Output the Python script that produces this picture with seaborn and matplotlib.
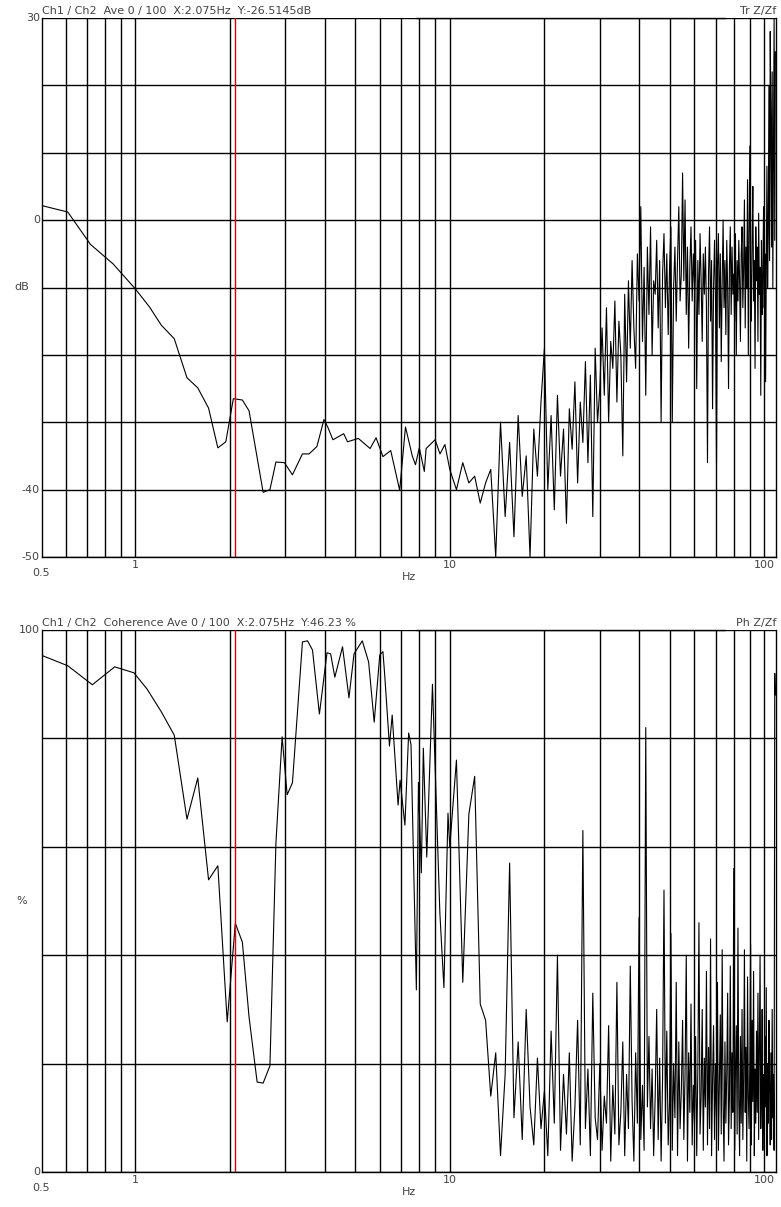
import numpy as np
import pandas as pd
import seaborn as sns
import matplotlib
matplotlib.use('Agg')
import matplotlib.pyplot as plt

# ---- transfer function (dB) ----
tf_lo_freq = [0.5, 0.61, 0.72, 0.85, 1.0, 1.11, 1.21, 1.33, 1.46, 1.58, 1.71, 1.83, 1.94,
              2.05, 2.19, 2.30, 2.55, 2.68, 2.80, 2.98, 3.16, 3.40, 3.57, 3.78, 3.98, 4.10,
              4.25, 4.60, 4.73, 5.12, 5.58, 5.83, 6.13, 6.49, 6.93, 7.23, 7.60, 7.78, 8.0,
              8.3, 8.41, 8.98, 9.31, 9.65]
tf_lo_db = [2.2, 1.2, -3.6, -6.5, -10.2, -12.9, -15.6, -17.6, -23.4, -24.9, -27.9, -33.8, -32.9,
            -26.5, -26.7, -28.3, -40.4, -40.0, -35.9, -36.0, -37.8, -34.7, -34.7, -33.6, -29.6, -30.8,
            -32.6, -31.7, -32.9, -32.4, -33.9, -32.3, -35.1, -34.2, -40.1, -30.7, -35.0, -36.3, -33.8,
            -37.3, -33.9, -32.6, -34.7, -33.3]
tf_hi_db = [-37, -40, -36, -39, -38, -42, -39, -37,
            -50, -30, -44, -33, -47, -29, -41, -35,
            -50, -31, -38, -27,
            -19, -40,
            -29, -43, -26, -38, -31, -45, -28, -34,
            -24, -39, -27, -33, -21, -36,
            -23, -44, -19, -30, -25, -16,
            -26, -13, -30, -18, -22, -12, -27, -15, -20, -35,
            -11, -24, -9, -19, -6, -16, -22, -5,
            -12, 2, -18, -7, -26, -4, -14, -1, -20, -9,
            -11, -3, -16, -6, -30, -8, -2, -13, -5, -17,
            -7, -1, -30, -10, -4, -15, -6, 2, -12, -8,
            7, -9, 3, -14, -4, -19, -7, -1, -12, -5,
            -10, -3, -25, -6, -14, -2, -9, -18, -5, -11,
            -4, -13, -36, -8, -1, -15, -6, -28, -10, -3,
            -12, -36, -7, -2, -16, -5, -21, -9, 0, -13,
            -6, -17, -3, -10, -25, -7, -1, -14, -4, -11,
            -8, -15, -2, -20, -6, -12, -3, -9, -18, -5,
            -1, -13, -7, 3, -16, -4, -10, 6, -20, -2,
            11, -8, -15, -3, 5, -12, -6, -22, -1, -9,
            -4, -18, 1, -11, -7, -26, -3, -14, -9, 2,
            -13, -5, -24, -8, 8, -10, -2, 20, -6, 28,
            15, -4, 22, -10, 9, 30, -3, 25]

# ---- coherence (%) ----
coh_lo_freq = [0.5, 0.61, 0.73, 0.86, 0.99, 1.09, 1.21, 1.33, 1.46, 1.58, 1.71, 1.83, 1.96,
               2.08, 2.19, 2.30, 2.44, 2.55, 2.68, 2.80, 2.93, 3.04, 3.16, 3.40, 3.53, 3.66,
               3.85, 4.07, 4.18, 4.31, 4.56, 4.78, 4.96, 5.27, 5.52, 5.75, 5.99, 6.13, 6.21,
               6.43, 6.56, 6.85, 6.95, 7.20, 7.40, 7.53, 7.83, 7.95, 8.12, 8.24, 8.45, 8.81,
               9.30, 9.58, 9.87]
coh_lo_pct = [95.4, 93.4, 89.9, 93.2, 92.1, 89.1, 84.9, 80.6, 65.1, 72.7, 53.9, 56.5, 27.7,
              45.9, 42.4, 28.6, 16.6, 16.4, 19.6, 60.7, 80.3, 69.6, 71.8, 97.8, 98.0, 96.3,
              84.5, 95.8, 95.6, 91.3, 96.9, 87.5, 95.6, 98.0, 94.1, 83.0, 95.4, 96.0, 91.7,
              78.6, 84.3, 67.7, 72.3, 64.0, 81.0, 78.8, 33.6, 71.9, 55.2, 78.2, 58.1, 90.0,
              47.8, 34.0, 66.2]
coh_hi_pct = [60, 76, 35, 66, 73, 31,
              28, 14, 22, 3,
              18, 57, 10, 24, 6, 30, 12, 5, 21, 8,
              15, 3, 26, 9, 40, 4, 18, 7, 22, 2,
              12, 28, 5, 63, 8, 19, 3, 33, 10, 6,
              20, 4, 14, 9, 27, 2, 16, 7, 35, 5,
              11, 24, 3, 18, 8, 38, 13, 2, 22, 9,
              47, 6, 16, 4, 82, 12, 25, 8, 19, 3,
              14, 30, 6, 21, 2, 17, 52, 9, 26, 5,
              13, 44, 4, 20, 10, 35, 3, 24, 8, 15,
              28, 6, 18, 40, 2, 22, 11, 31, 5, 16,
              9, 25, 3, 19, 46, 7, 14, 30, 4, 21,
              12, 37, 5, 23, 8, 43, 3, 17, 27, 6,
              20, 10, 35, 4, 16, 29, 7, 41, 12, 2,
              24, 9, 18, 33, 5, 14, 38, 8, 22, 11,
              56, 4, 19, 27, 7, 45, 13, 3, 25, 9,
              30, 6, 17, 41, 11, 23, 2, 36, 14, 8,
              20, 42, 5, 28, 13, 37, 3, 19, 9, 26,
              11, 33, 6, 22, 40, 8, 15, 30, 4, 18,
              7, 25, 12, 34, 3, 20, 9, 28, 15, 5,
              22, 6, 30, 10, 18, 4, 92, 88]

hi_freq = list(np.arange(10, 10 + 0.5 * len(tf_hi_db), 0.5))
cursor_hz = 2.075

tf = pd.DataFrame({'Hz': tf_lo_freq + hi_freq, 'val': tf_lo_db + tf_hi_db})
coh = pd.DataFrame({'Hz': coh_lo_freq + hi_freq, 'val': coh_lo_pct + coh_hi_pct})

sns.set_style('white')
plt.rcParams['font.family'] = ['DejaVu Sans']
txt_col = '#444444'

fig = plt.figure(figsize=(7.81, 12.07), dpi=100)
W, H = 781, 1207


def panel(top, bottom, df, ylim, ygrid, ylabels, unit, header, tag):
    ax = fig.add_axes([42 / W, 1 - bottom / H, 734 / W, (bottom - top) / H])
    sns.lineplot(data=df, x='Hz', y='val', ax=ax, color='black', linewidth=0.8,
                 estimator=None, sort=True)
    ax.set_xscale('log')
    ax.set_xlim(0.505, 109)
    ax.set_ylim(*ylim)
    xg = [0.6, 0.7, 0.8, 0.9, 1, 2, 3, 4, 5, 6, 7, 8, 9, 10,
          20, 30, 40, 50, 60, 70, 80, 90, 100]
    ax.set_xticks(xg)
    ax.set_xticks([], minor=True)
    ax.set_xticklabels([])
    ax.set_yticks(ygrid)
    ax.set_yticklabels([])
    ax.tick_params(length=0)
    ax.grid(True, color='black', linewidth=1)
    ax.axvline(cursor_hz, color='#dd0000', linewidth=1)
    ax.set_xlabel('')
    ax.set_ylabel('')
    for s in ['left', 'bottom', 'right']:
        ax.spines[s].set_color('black')
        ax.spines[s].set_linewidth(1)
    ax.spines['top'].set_visible(False)
    ax.plot([0.51, 0.93], [1, 1], transform=ax.transAxes, color='black',
            linewidth=1, clip_on=False)
    for v in ylabels:
        ax.text(-0.003, v, f'{v:g}', transform=ax.get_yaxis_transform(),
                ha='right', va='center', fontsize=8, color=txt_col)
    ax.text(-0.028, 0.5, unit, transform=ax.transAxes, ha='center', va='center',
            fontsize=8, color=txt_col)
    for f, lab in [(0.5, '0.5'), (1, '1'), (10, '10'), (100, '100')]:
        dy = -0.03 if f == 0.5 else -0.015
        ax.text(f, dy, lab, transform=ax.get_xaxis_transform(), ha='center',
                va='center', fontsize=8, color=txt_col)
    ax.text(0.5, -0.037, 'Hz', transform=ax.transAxes, ha='center', va='center',
            fontsize=8, color=txt_col)
    ax.text(0.0, 1.003, header, transform=ax.transAxes, ha='left', va='bottom',
            fontsize=8, color=txt_col)
    ax.text(1.0, 1.003, tag, transform=ax.transAxes, ha='right', va='bottom',
            fontsize=8, color=txt_col)
    return ax


panel(18, 557, tf, (-50, 30), list(range(-50, 31, 10)), [30, 0, -40, -50], 'dB',
      'Ch1 / Ch2  Ave 0 / 100  X:2.075Hz  Y:-26.5145dB', 'Tr Z/Zf')
panel(630, 1172, coh, (0, 100), list(range(0, 101, 20)), [100, 0], '%',
      'Ch1 / Ch2  Coherence Ave 0 / 100  X:2.075Hz  Y:46.23 %', 'Ph Z/Zf')

fig.savefig('out.png', dpi=100)
